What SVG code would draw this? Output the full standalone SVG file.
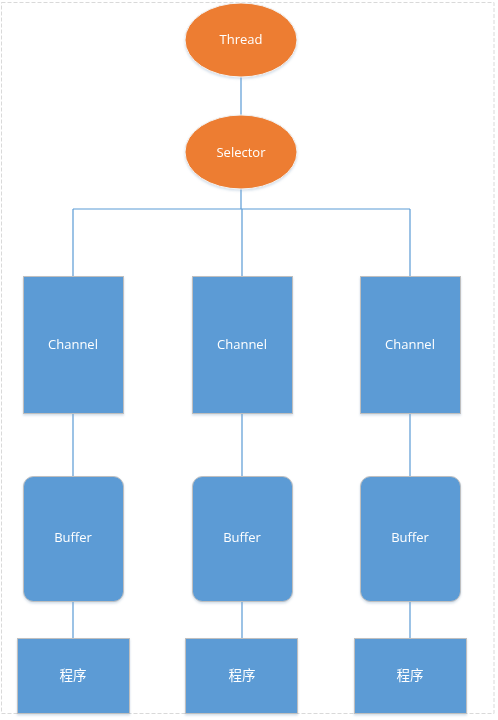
<svg xmlns="http://www.w3.org/2000/svg" width="498" height="720" viewBox="0 0 498 720">
<defs>
<style>
.bg{fill:#fff;stroke:#d9d9d9;stroke-width:1;stroke-dasharray:4 2}
.ov{fill:#ed7d31;stroke:#f2f2f2;stroke-width:1}
.bx{fill:#5b9bd5;stroke:#bfbfbf;stroke-width:1}
.ln{fill:none;stroke:#5b9bd5;stroke-width:1.2}
text{font-family:"Open Sans","Liberation Sans","Noto Sans CJK SC",sans-serif;font-size:13px;fill:#fff;text-anchor:middle;dominant-baseline:central}
.cjk{font-family:"Noto Sans CJK SC",sans-serif;font-size:13.5px}
</style>
<filter id="sh" x="-10%" y="-10%" width="120%" height="125%">
<feDropShadow dx="0" dy="1.5" stdDeviation="1" flood-color="#7f9fc0" flood-opacity="0.35"/>
</filter>
</defs>
<rect class="bg" x="1.5" y="2.5" width="492.5" height="711"/>
<g id="connectors">
<path class="ln" d="M241 77V115"/>
<path class="ln" d="M241 189V209M73 209H410M73 209V276M242 209V276M410 209V276"/>
<path class="ln" d="M73 413V476M242 413V476M410 413V476"/>
<path class="ln" d="M73 601V638M242 601V638M410 601V638"/>
</g>
<g id="thread" filter="url(#sh)"><ellipse class="ov" cx="241" cy="40" rx="56" ry="37"/><text x="241" y="39">Thread</text></g>
<g id="selector" filter="url(#sh)"><ellipse class="ov" cx="241" cy="152" rx="56" ry="37"/><text x="241" y="152">Selector</text></g>
<g id="channel1" filter="url(#sh)"><rect class="bx" x="23.5" y="276.5" width="100" height="137"/><text x="73" y="344">Channel</text></g>
<g id="channel2" filter="url(#sh)"><rect class="bx" x="192.5" y="276.5" width="100" height="137"/><text x="242" y="344">Channel</text></g>
<g id="channel3" filter="url(#sh)"><rect class="bx" x="360.5" y="276.5" width="100" height="137"/><text x="410" y="344">Channel</text></g>
<g id="buffer1" filter="url(#sh)"><rect class="bx" x="23.5" y="476.5" width="100" height="125" rx="10"/><text x="73" y="537">Buffer</text></g>
<g id="buffer2" filter="url(#sh)"><rect class="bx" x="192.5" y="476.5" width="100" height="125" rx="10"/><text x="242" y="537">Buffer</text></g>
<g id="buffer3" filter="url(#sh)"><rect class="bx" x="360.5" y="476.5" width="100" height="125" rx="10"/><text x="410" y="537">Buffer</text></g>
<g id="prog1" filter="url(#sh)"><rect class="bx" x="17.5" y="638.5" width="112" height="75"/><text class="cjk" x="73" y="674">程序</text></g>
<g id="prog2" filter="url(#sh)"><rect class="bx" x="185.5" y="638.5" width="112" height="75"/><text class="cjk" x="242" y="674">程序</text></g>
<g id="prog3" filter="url(#sh)"><rect class="bx" x="354.5" y="638.5" width="112" height="75"/><text class="cjk" x="410" y="674">程序</text></g>
</svg>
